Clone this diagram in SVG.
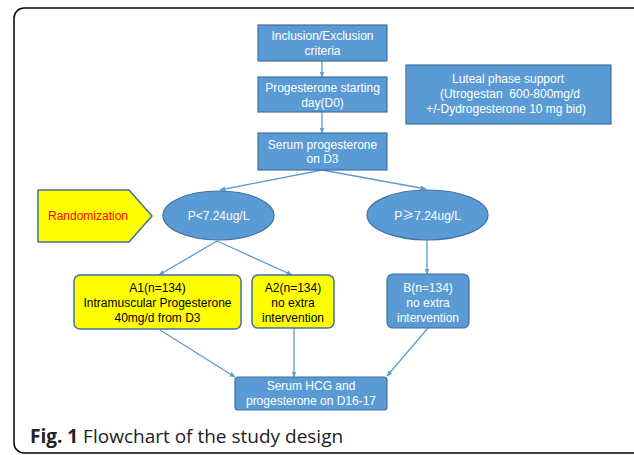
<svg xmlns="http://www.w3.org/2000/svg" width="634" height="455" viewBox="0 0 634 455">
<style>
.box{fill:#5B9BD5;stroke:#41719C;stroke-width:1.2}
.ybox{fill:#FFFF00;stroke:#41719C;stroke-width:1.5}
.wt{fill:#FFFFFF;font-family:"Liberation Sans",Arial,sans-serif;font-size:12px;text-anchor:middle}
.bt{fill:#000000;font-family:"Liberation Sans",Arial,sans-serif;font-size:12px;text-anchor:middle}
.conn line{stroke:#5B9BD5;stroke-width:1.3;marker-end:url(#ah)}
</style>
<defs>
<marker id="ah" viewBox="0 0 10 10" refX="9" refY="5" markerWidth="6" markerHeight="6" orient="auto" markerUnits="userSpaceOnUse">
<path d="M0,1 L10,5 L0,9 z" fill="#5B9BD5"/>
</marker>
</defs>
<rect x="0" y="0" width="634" height="455" fill="#FFFFFF"/>
<rect id="frame" x="14" y="8" width="640" height="445" rx="10" fill="none" stroke="#000000" stroke-width="1.5"/>
<g class="conn">
<line x1="322" y1="61" x2="322" y2="77"/>
<line x1="322" y1="112" x2="322" y2="133"/>
<line x1="322" y1="170" x2="220" y2="190"/>
<line x1="322" y1="170" x2="426" y2="189"/>
<line x1="217" y1="241" x2="159" y2="275"/>
<line x1="217" y1="241" x2="292" y2="275"/>
<line x1="427" y1="240" x2="427" y2="274"/>
<line x1="160" y1="330" x2="235" y2="377"/>
<line x1="294" y1="328" x2="294" y2="377"/>
<line x1="428" y1="328" x2="387" y2="376"/>
</g>
<g id="inclusion">
<rect class="box" x="258" y="25" width="129" height="36"/>
<text class="wt" x="322.5" y="40">Inclusion/Exclusion</text>
<text class="wt" x="322.5" y="54.5">criteria</text>
</g>
<g id="start">
<rect class="box" x="258" y="77" width="129" height="35"/>
<text class="wt" x="322.5" y="92">Progesterone starting</text>
<text class="wt" x="322.5" y="106.5">day(D0)</text>
</g>
<g id="serum">
<rect class="box" x="258" y="133" width="129" height="37"/>
<text class="wt" x="322.5" y="148.5">Serum progesterone</text>
<text class="wt" x="322.5" y="163">on D3</text>
</g>
<g id="luteal">
<rect class="box" x="406" y="65" width="205" height="59"/>
<text class="wt" x="508" y="83">Luteal phase support</text>
<text class="wt" x="510" y="98" xml:space="preserve">(Utrogestan  600-800mg/d</text>
<text class="wt" x="506" y="113">+/-Dydrogesterone 10 mg bid)</text>
</g>
<g id="randomization">
<path d="M38,190 L129,190 L152,216 L129,242 L38,242 Z" fill="#FFFF00" stroke="#41719C" stroke-width="1.5"/>
<text x="88" y="220" fill="#FF0000" font-family="Liberation Sans,Arial,sans-serif" font-size="12" text-anchor="middle">Randomization</text>
</g>
<g id="plow">
<ellipse class="box" cx="218.5" cy="215.5" rx="55.5" ry="24.5"/>
<text class="wt" x="218.5" y="220">P&lt;7.24ug/L</text>
</g>
<g id="phigh">
<ellipse class="box" cx="427.5" cy="215" rx="60.5" ry="25"/>
<text class="wt" x="427.5" y="220">P<tspan font-family="Noto Sans CJK SC,sans-serif">≥</tspan>7.24ug/L</text>
</g>
<g id="a1">
<rect class="ybox" x="74" y="275" width="167" height="54" rx="6"/>
<text class="bt" x="157.5" y="292">A1(n=134)</text>
<text class="bt" x="157.5" y="307">Intramuscular Progesterone</text>
<text class="bt" x="157.5" y="322">40mg/d from D3</text>
</g>
<g id="a2">
<rect class="ybox" x="252" y="275" width="82" height="53" rx="6"/>
<text class="bt" x="293" y="292">A2(n=134)</text>
<text class="bt" x="293" y="307">no extra</text>
<text class="bt" x="293" y="322">intervention</text>
</g>
<g id="b">
<rect class="box" x="387" y="274" width="82" height="54" rx="6"/>
<text class="wt" x="428" y="292">B(n=134)</text>
<text class="wt" x="428" y="307">no extra</text>
<text class="wt" x="428" y="322">intervention</text>
</g>
<g id="final">
<rect class="box" x="235" y="377" width="152" height="33" rx="3"/>
<text class="wt" x="311" y="390">Serum HCG and</text>
<text class="wt" x="311" y="405">progesterone on D16-17</text>
</g>
<text x="30" y="443" font-family="Open Sans,Noto Sans,sans-serif" font-size="19" fill="#222222"><tspan font-weight="bold">Fig. 1</tspan> Flowchart of the study design</text>
</svg>
